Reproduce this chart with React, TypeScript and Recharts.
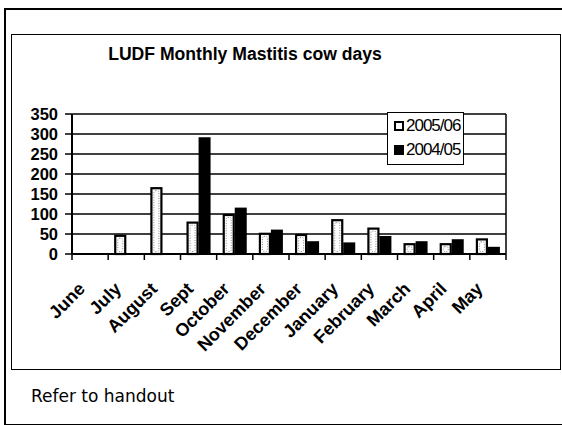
import { Bar, BarChart, CartesianGrid, XAxis, YAxis } from "recharts";

const months = ["June", "July", "August", "Sept", "October", "November", "December", "January", "February", "March", "April", "May"];
const season0506 = [0, 48, 167, 81, 100, 53, 50, 87, 66, 27, 27, 39];
const season0405 = [0, 0, 0, 292, 116, 61, 32, 29, 45, 32, 37, 18];
const yTicks = [0, 50, 100, 150, 200, 250, 300, 350];
const seriesNames = ["2005/06", "2004/05"];

const data = months.map((m, i) => ({ month: m, s0506: season0506[i], s0405: season0405[i] }));

const arial = "'Liberation Sans', Arial, sans-serif";

function HatchBar(props: any) {
  const { x, y, width, height } = props;
  if (!height || height <= 0) return null;
  return (
    <g>
      <rect x={x + 1} y={y + 1} width={width - 2} height={height - 1} fill="#fff" stroke="#000" strokeWidth={2.2} />
      {height > 8 && (
        <rect x={x + 3.5} y={y + 3.5} width={width - 7} height={height - 6} fill="#fff" stroke="#888" strokeWidth={1} strokeDasharray="1 1.5" rx={1.5} />
      )}
    </g>
  );
}

function MonthTick(props: any) {
  const { x, y, payload, index } = props;
  const half = 434 / 12 / 2;
  return (
    <g>
      <line x1={x - half} y1={y - 8} x2={x - half} y2={y - 2} stroke="#000" strokeWidth={1.5} />
      {index === months.length - 1 && (
        <line x1={x + half} y1={y - 8} x2={x + half} y2={y - 2} stroke="#000" strokeWidth={1.5} />
      )}
      <text
        x={0}
        y={0}
        transform={`translate(${x - 4},${y + 28}) rotate(-45)`}
        textAnchor="end"
        fontFamily={arial}
        fontWeight="bold"
        fontSize={18}
        fill="#000"
      >
        {payload.value}
      </text>
    </g>
  );
}

function LegendBox() {
  const label = { fontFamily: arial, fontSize: 17, letterSpacing: -1, color: "#000", marginLeft: 2, lineHeight: "18px" };
  return (
    <div style={{ position: "absolute", left: 387, top: 112, width: 77, height: 53, border: "1px solid #000", background: "#fff", paddingLeft: 6, paddingTop: 3, boxSizing: "border-box" }}>
      <div style={{ display: "flex", alignItems: "center", height: 20 }}>
        <span style={{ width: 6, height: 6, border: "2px solid #000", background: "#fff", display: "inline-block" }} />
        <span style={label}>{seriesNames[0]}</span>
      </div>
      <div style={{ display: "flex", alignItems: "center", height: 28 }}>
        <span style={{ width: 10, height: 10, background: "#000", display: "inline-block" }} />
        <span style={label}>{seriesNames[1]}</span>
      </div>
    </div>
  );
}

export default function App() {
  return (
    <div style={{ position: "absolute", left: 0, top: 0, width: 562, height: 425, background: "#fff", overflow: "hidden" }}>
      <div style={{ position: "absolute", left: 4, top: 8, width: 570, height: 414, border: "2px solid #000" }} />
      <div style={{ position: "absolute", left: 11, top: 34, width: 548, height: 334, border: "1.5px solid #000" }} />
      <div
        style={{
          position: "absolute",
          left: 0,
          width: 490,
          top: 44,
          textAlign: "center",
          fontFamily: arial,
          fontWeight: "bold",
          fontSize: 17.6,
          color: "#000",
        }}
      >
        LUDF Monthly Mastitis cow days
      </div>
      <div style={{ position: "absolute", left: 31, top: 386, fontFamily: "'DejaVu Sans', sans-serif", fontSize: 17, color: "#000" }}>
        Refer to handout
      </div>
      <div style={{ position: "absolute", left: 0, top: 0 }}>
        <BarChart
          width={562}
          height={425}
          data={data}
          margin={{ top: 114, right: 55, left: 32, bottom: 111 }}
          barCategoryGap="16.8%"
          barGap={0}
        >
          <CartesianGrid horizontal vertical={false} stroke="#000" strokeWidth={1.3} strokeOpacity={1} />
          <XAxis
            dataKey="month"
            height={60}
            interval={0}
            tickLine={false}
            axisLine={{ stroke: "#000", strokeWidth: 2 }}
            tick={<MonthTick />}
          />
          <YAxis
            width={40}
            domain={[0, 350]}
            ticks={yTicks}
            interval={0}
            tickSize={7}
            tickMargin={7}
            axisLine={{ stroke: "#000", strokeWidth: 2 }}
            tickLine={{ stroke: "#000", strokeWidth: 1.5 }}
            tick={{ fill: "#000", fontFamily: arial, fontWeight: "bold", fontSize: 16.5 }}
          />
          <YAxis
            yAxisId="edge"
            orientation="right"
            width={1}
            domain={[0, 350]}
            tick={false}
            tickLine={false}
            axisLine={{ stroke: "#000", strokeWidth: 1.5 }}
          />
          <Bar dataKey="s0506" name={seriesNames[0]} shape={<HatchBar />} isAnimationActive={false} />
          <Bar dataKey="s0405" name={seriesNames[1]} fill="#000" isAnimationActive={false} />
        </BarChart>
      </div>
      <LegendBox />
    </div>
  );
}
